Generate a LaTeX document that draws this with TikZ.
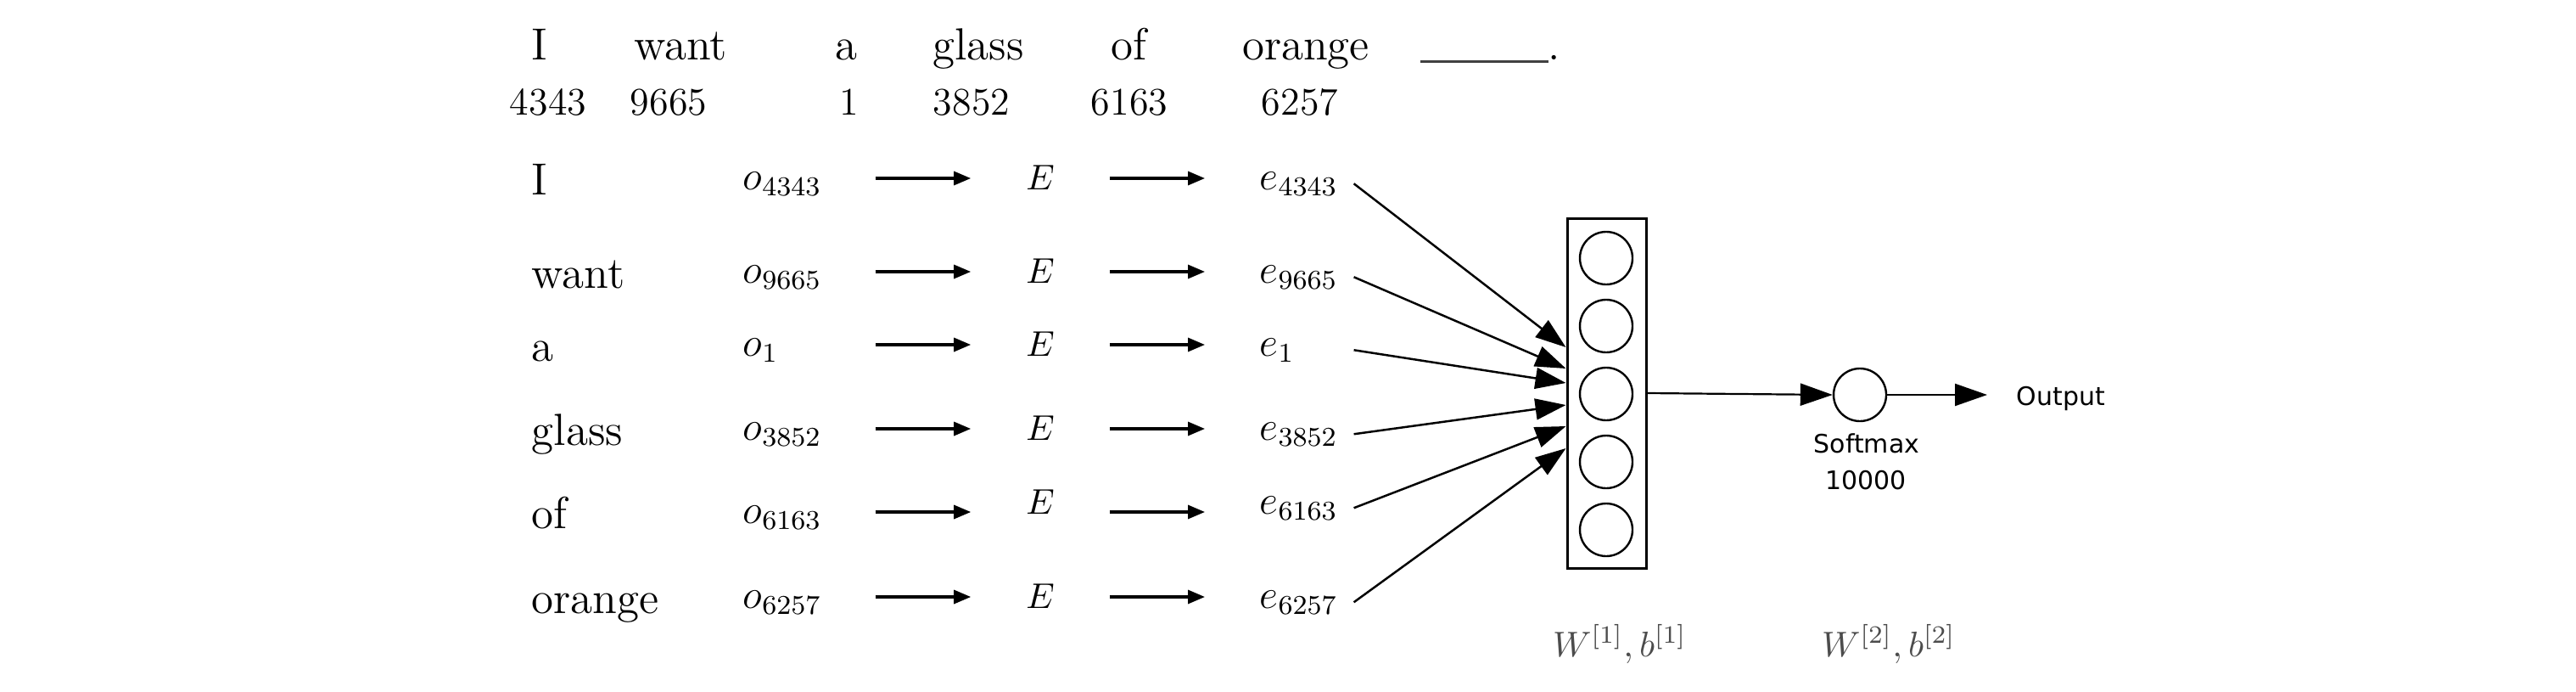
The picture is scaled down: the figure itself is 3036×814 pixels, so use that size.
\RequirePackage{fix-cm}
\documentclass[tikz,border=0pt]{standalone}
\usepackage{fontspec}
\newfontfamily\dejavu{DejaVu Sans}
\usetikzlibrary{arrows.meta}
\begin{document}
\begin{tikzpicture}[x=0.25pt,y=-0.25pt,
  word/.style={font=\fontsize{13.25}{16}\selectfont, inner sep=0, anchor=base},
  num/.style={font=\fontsize{11.5}{14}\selectfont, inner sep=0, anchor=base},
  rword/.style={font=\fontsize{13.25}{16}\selectfont, inner sep=0, anchor=base west},
  olab/.style={font=\fontsize{12}{14}\selectfont, inner sep=0, anchor=base west, text width=38.75pt, align=left},
  elab/.style={font=\fontsize{12}{14}\selectfont, inner sep=0, anchor=base west, text width=27.5pt, align=left},
  Elab/.style={font=\fontsize{10.5}{12}\selectfont, inner sep=0, anchor=base, minimum width=40.5pt},
  smallarr/.style={line width=0.8pt, -{Triangle[length=5pt,width=4pt]}},
  bigarr/.style={line width=0.62pt, -{Triangle[length=9pt,width=6.2pt]}},
  outarr/.style={line width=0.55pt, -{Triangle[length=9.5pt,width=6.5pt]}},
  unit/.style={circle, draw, line width=0.6pt, minimum size=15.5pt, inner sep=0},
  sans/.style={font=\dejavu\fontsize{7.5}{9}\selectfont, inner sep=0},
  wlab/.style={font=\fontsize{10.5}{12}\selectfont, inner sep=0, anchor=base, text=black!70}
]
\path[use as bounding box, fill=white] (0,0) rectangle (3036,814);

% sentence
\node[word] (t1) at (636,70) {I};
\node[word] (t2) at (802,70) {want};
\node[word] (t3) at (997,70) {a};
\node[word] (t4) at (1153,70) {glass};
\node[word] (t5) at (1330,70) {of};
\node[word] (t6) at (1539,70) {orange};
\node[word, anchor=base west] (tb) at (1673,70) {\textcolor{black!75}{\rule[-1pt]{37.75pt}{0.75pt}}.};

% indices
\node[num] (n1) at (646,135) {4343};
\node[num] (n2) at (788,135) {9665};
\node[num] (n3) at (1001,135) {1};
\node[num] (n4) at (1145,135) {3852};
\node[num] (n5) at (1331,135) {6163};
\node[num] (n6) at (1532,135) {6257};

% row levels
\coordinate (r1) at (0,210);
\coordinate (r2) at (0,320);
\coordinate (r3) at (0,406);
\coordinate (r4) at (0,505);
\coordinate (r5) at (0,603);
\coordinate (r6) at (0,703);

% rows
\node[rword] (w1) at (626,229) {I};
\node[rword] (w2) at (626,339) {want};
\node[rword] (w3) at (626,425) {a};
\node[rword] (w4) at (626,524) {glass};
\node[rword] (w5) at (626,622) {of};
\node[rword] (w6) at (626,722) {orange};

\node[olab] (o1) at (875,223) {$o_{4343}$};
\node[olab] (o2) at (875,333) {$o_{9665}$};
\node[olab] (o3) at (875,419) {$o_{1}$};
\node[olab] (o4) at (875,518) {$o_{3852}$};
\node[olab] (o5) at (875,616) {$o_{6163}$};
\node[olab] (o6) at (875,716) {$o_{6257}$};

\node[Elab] (E1) at (1226,223) {$E$};
\node[Elab] (E2) at (1226,333) {$E$};
\node[Elab] (E3) at (1226,419) {$E$};
\node[Elab] (E4) at (1226,518) {$E$};
\node[Elab] (E5) at (1226,605) {$E$};
\node[Elab] (E6) at (1226,716) {$E$};

\node[elab] (e1) at (1484,223) {$e_{4343}$};
\node[elab] (e2) at (1484,333) {$e_{9665}$};
\node[elab] (e3) at (1484,419) {$e_{1}$};
\node[elab] (e4) at (1484,518) {$e_{3852}$};
\node[elab] (e5) at (1484,605) {$e_{6163}$};
\node[elab] (e6) at (1484,716) {$e_{6257}$};

\foreach \i in {1,...,6}{
  \draw[smallarr] (o\i.east |- r\i) -- (E\i.west |- r\i);
  \draw[smallarr, shorten >=16pt] (E\i.east |- r\i) -- (e\i.west |- r\i);
}

% hidden layer
\node[draw, line width=0.75pt, minimum width=23.25pt, minimum height=103pt, inner sep=0] (box) at (1893.5,463) {};
\node[unit] (u1) at (1893,304) {};
\node[unit] (u2) at (1893,384) {};
\node[unit] (u3) at (1893,464) {};
\node[unit] (u4) at (1893,544) {};
\node[unit] (u5) at (1893,624) {};

\draw[bigarr] (e1.east) -- ([yshift=13.5pt]box.west);
\draw[bigarr] (e2.east) -- ([yshift=7.25pt]box.west);
\draw[bigarr] (e3.east) -- ([yshift=3pt]box.west);
\draw[bigarr] (e4.east) -- ([yshift=-3.5pt]box.west);
\draw[bigarr] (e5.east) -- ([yshift=-9.75pt]box.west);
\draw[bigarr] (e6.east) -- ([yshift=-16.25pt]box.west);

% softmax
\node[unit] (sm) at (2192,465) {};
\draw[outarr] (box.east) -- (sm.west);
\node[sans, anchor=base west] (out) at (2376,477) {Output};
\draw[outarr, shorten >=8.5pt] (sm.east) -- (sm.east -| out.west);
\node[sans, anchor=base] (sml) at (2200,533) {Softmax};
\node[sans, anchor=base] (smn) at (2199,576) {10000};

% parameters
\node[wlab] (p1) at (1909,773) {$W^{[1]}, b^{[1]}$};
\node[wlab] (p2) at (2226,773) {$W^{[2]}, b^{[2]}$};
\end{tikzpicture}
\end{document}
